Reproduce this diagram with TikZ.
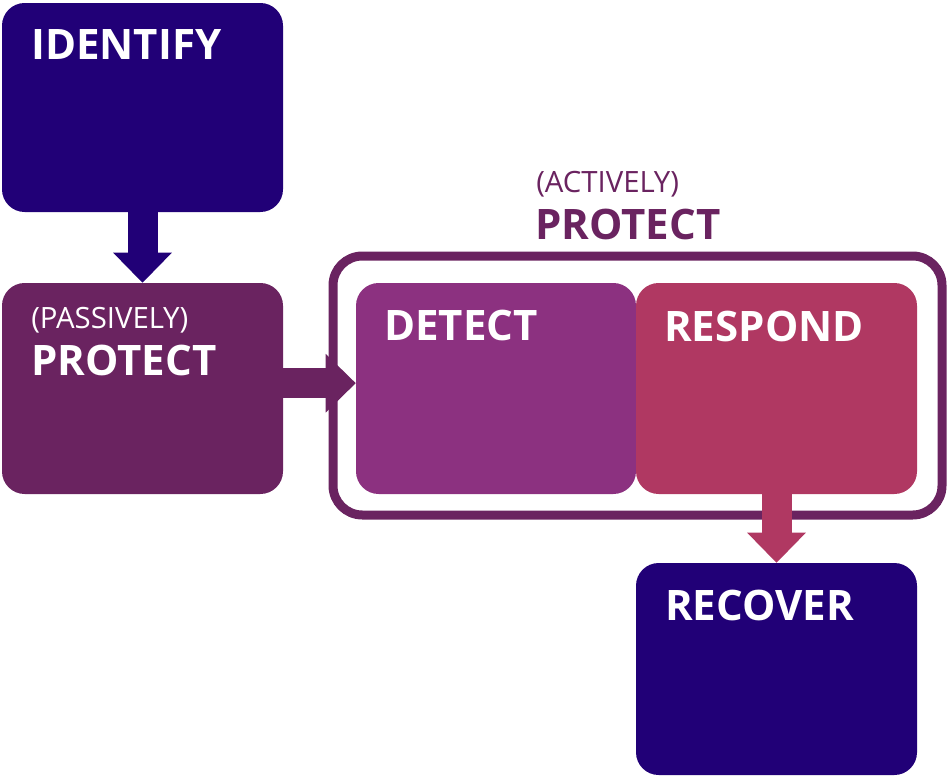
\documentclass[tikz,border=0pt]{standalone}
\usepackage{fontspec}
\setmainfont{Open Sans}
\usepackage{tikz}
\usetikzlibrary{arrows.meta}
\definecolor{navy}{HTML}{210077}
\definecolor{plum}{HTML}{6A2360}
\definecolor{orchid}{HTML}{8C3180}
\definecolor{rose}{HTML}{B03862}
\tikzset{
  phase/.style={rounded corners=17pt, inner sep=0pt, minimum width=210.75pt, minimum height=158.25pt},
  phasename/.style={text=white, font=\fontsize{31.5}{36}\selectfont\bfseries, anchor=base west, inner sep=0pt},
  phasenote/.style={font=\fontsize{22}{26}\selectfont, anchor=base west, inner sep=0pt},
  flow/.style={line width=22.5pt, -{Triangle[length=22.5pt,width=44pt,line width=0pt]}},
  activebox/.style={draw=plum, line width=6.75pt, rounded corners=22pt, inner sep=0pt, minimum width=456.75pt, minimum height=194.25pt}
}

\begin{document}
\begin{tikzpicture}[x=0.75pt,y=-0.75pt]
\useasboundingbox (0,0) rectangle (948,778);

% active protection frame
\node[activebox] (active) at (637.5,385.5) {};
\node[phasenote, text=plum] (activenote) at (536,192) {(ACTIVELY)};
\node[phasename, text=plum] (activename) at (535,239) {PROTECT};

% phases
\node[phase, fill=navy, minimum height=156.75pt] (identify) at (142.5,107.5) {};
\node[phase, fill=plum] (passive) at (142.5,388.5) {};
\node[phase, fill=orchid, minimum width=210pt] (detect) at (496,388.5) {};
\node[phase, fill=rose] (respond) at (776.5,388.5) {};
\node[phase, fill=navy, minimum height=159pt] (recover) at (776.5,669) {};

\node[phasename] (identifyname) at (31,59) {IDENTIFY};
\node[phasenote, text=white] (passivenote) at (31,328) {(PASSIVELY)};
\node[phasename] (passivename) at (31,375) {PROTECT};
\node[phasename] (detectname) at (384,340) {DETECT};
\node[phasename] (respondname) at (664,341) {RESPOND};
\node[phasename] (recovername) at (665,620) {RECOVER};

% arrows
\draw[flow, navy] (identify.south) -- (passive.north);
\draw[flow, plum] ([yshift=4pt]passive.east) -- ([yshift=4pt]detect.west);
\draw[flow, rose] (respond.south) -- (recover.north);
\end{tikzpicture}
\end{document}
